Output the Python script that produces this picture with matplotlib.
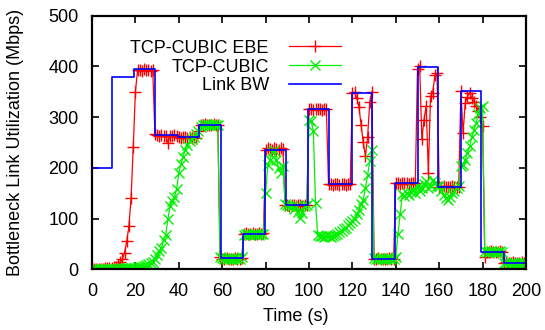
import numpy as np
import matplotlib
matplotlib.use("Agg")
import matplotlib.pyplot as plt

plt.rcParams['font.family'] = ['Liberation Sans', 'DejaVu Sans']

# ---- data (Mbps), sampled once per second, t = 0..200 s ----
time_s = list(range(0, 201))

ebe = [0, 0, 0, 1, 1, 1, 2, 2, 3, 3,
       4, 5, 8, 14, 20, 32, 55, 85, 140, 240,
       350, 392, 393, 391, 394, 392, 393, 390, 392, 266,
       264, 262, 265, 263, 262, 249, 263, 262, 264, 262,
       260, 259, 260, 261, 259, 260, 258, 260, 259, 272,
       285, 284, 286, 285, 284, 285, 286, 284, 285, 25,
       21, 20, 22, 21, 20, 21, 22, 20, 21, 22,
       70, 71, 69, 70, 71, 70, 69, 71, 70, 72,
       236, 238, 237, 236, 238, 237, 236, 238, 237, 127,
       126, 125, 127, 126, 125, 126, 127, 125, 126, 126,
       315, 316, 314, 315, 316, 315, 314, 316, 315, 168,
       168, 167, 169, 168, 167, 168, 169, 167, 168, 168,
       347, 349, 338, 320, 285, 250, 224, 260, 330, 350,
       21, 20, 22, 21, 20, 21, 20, 22, 21, 20,
       170, 171, 169, 170, 171, 170, 169, 171, 170, 171,
       395, 401, 256, 295, 322, 190, 341, 348, 382, 386,
       163, 162, 164, 163, 162, 163, 164, 162, 163, 163,
       351, 268, 328, 340, 348, 338, 330, 322, 312, 300,
       282, 25, 35, 34, 36, 35, 34, 35, 36, 34,
       13, 14, 12, 13, 14, 13, 12, 13, 14, 13, 13]

cubic = [0, 0, 1, 0, 1, 0, 1, 1, 0, 1,
         1, 1, 2, 1, 2, 2, 2, 3, 2, 3,
         3, 4, 4, 5, 6, 8, 10, 12, 15, 20,
         28, 37, 42, 58, 68, 100, 124, 134, 143, 158,
         190, 208, 222, 236, 244, 252, 257, 261, 266, 272,
         280, 285, 284, 286, 285, 284, 286, 285, 284, 24,
         22, 20, 21, 22, 20, 21, 22, 21, 20, 25,
         68, 70, 69, 68, 70, 69, 70, 68, 69, 70,
         150, 205, 216, 232, 236, 215, 200, 190, 203, 128,
         126, 125, 124, 118, 125, 112, 101, 110, 124, 126,
         295, 292, 272, 131, 68, 65, 66, 64, 66, 65,
         64, 66, 68, 70, 74, 75, 80, 82, 88, 92,
         95, 100, 108, 116, 128, 137, 160, 185, 213, 236,
         22, 20, 21, 22, 20, 21, 20, 22, 21, 20,
         25, 70, 108, 148, 144, 150, 147, 152, 158, 150,
         164, 155, 160, 168, 174, 160, 165, 175, 170, 165,
         165, 155, 147, 140, 137, 142, 150, 155, 160, 164,
         203, 205, 216, 230, 242, 260, 274, 288, 305, 318,
         322, 36, 35, 34, 36, 35, 34, 35, 36, 34,
         12, 13, 11, 12, 13, 12, 11, 12, 13, 12, 12]

# link bandwidth: change times and levels
bw_edges = [0, 9.3, 19.2, 29.2, 39.6, 49.3, 59.4, 69.7, 79.8, 89.4, 99.7,
            109.4, 120.0, 129.2, 139.7, 150.2, 159.4, 170.0, 179.4, 189.7, 200]
bw_levels = [200, 378, 394, 264, 260, 284, 22, 70, 236, 126, 315,
             168, 347, 21, 170, 398, 162, 351, 34, 13]

labels = ['TCP-CUBIC EBE', 'TCP-CUBIC', 'Link BW']
x_ticks = list(range(0, 201, 20))
y_ticks = list(range(0, 501, 100))

FS = 13

# ---- figure ----
fig = plt.figure(figsize=(5.45, 3.30), dpi=100)
ax = fig.add_axes([92/545, 1 - 269.3/330, (526-92)/545, (269.3-15.5)/330])

ax.plot(time_s, ebe, color='#ff0000', lw=0.9, marker='+', ms=8, mew=1.0,
        label=labels[0])
ax.plot(time_s, cubic, color='#00f000', lw=0.9, marker='x', ms=6.5, mew=1.0,
        label=labels[1])
ax.step(bw_edges, bw_levels + [bw_levels[-1]], where='post', color='#0000ff',
        lw=1.2, label=labels[2])

ax.set_xlim(0, 200)
ax.set_ylim(0, 500)
ax.set_xticks(x_ticks)
ax.set_yticks(y_ticks)
ax.tick_params(direction='in', length=5, width=1.2, top=True, right=True,
               labelsize=FS, colors='black')
ax.tick_params(axis='x', pad=10)
ax.tick_params(axis='y', pad=9.5)
for s in ax.spines.values():
    s.set_linewidth(1.6)

ax.set_xlabel('Time (s)', fontsize=FS)
ax.set_ylabel('Bottleneck Link Utilization (Mbps)', fontsize=FS)
ax.xaxis.set_label_coords((295.7 - 92) / 434, (269.3 - 308) / 253.8)
ax.yaxis.set_label_coords((24 - 92) / 434, 0.5)

leg = ax.legend(loc='center right', bbox_to_anchor=(341/545, 1 - 67/330),
                bbox_transform=fig.transFigure, frameon=False,
                markerfirst=False, numpoints=1, handlelength=2.9,
                handletextpad=1.1, labelspacing=0.1, borderpad=0,
                borderaxespad=0, fontsize=FS)

fig.savefig('out.png', dpi=100)
